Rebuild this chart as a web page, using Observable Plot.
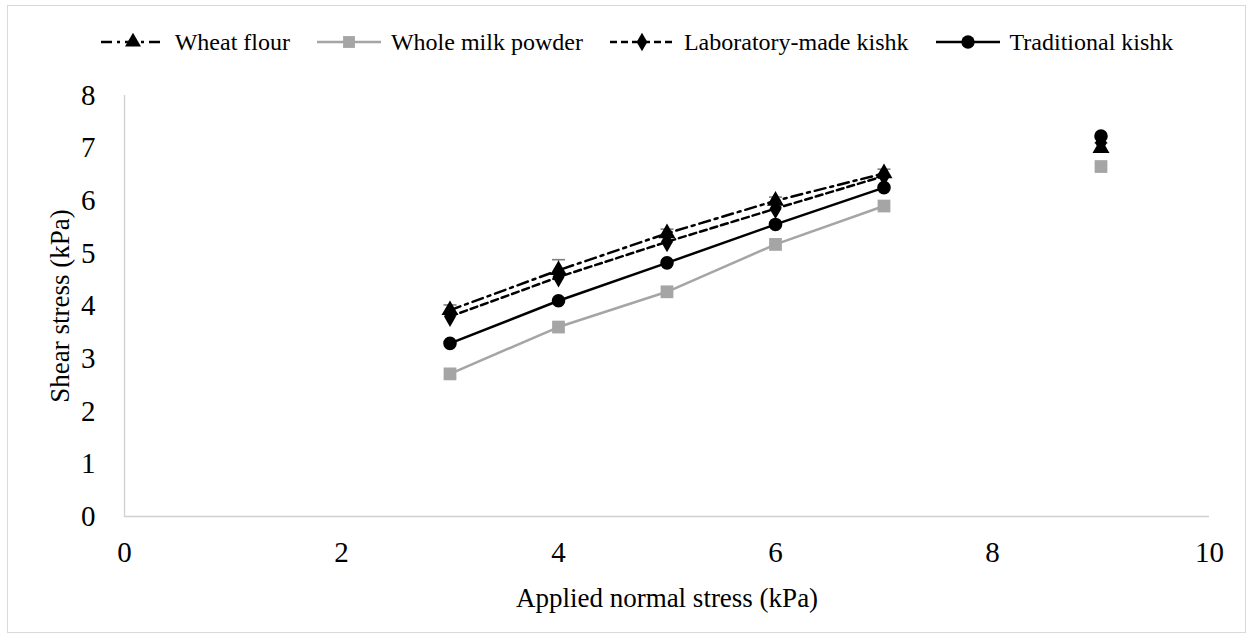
<!DOCTYPE html>
<html>
<head>
<meta charset="utf-8">
<script src="https://cdn.jsdelivr.net/npm/d3@7"></script>
<script src="https://cdn.jsdelivr.net/npm/@observablehq/plot@0.6"></script>
<style>
  html, body { margin: 0; padding: 0; background: #fff; }
  #wrap { position: relative; width: 1253px; height: 638px; overflow: hidden; font-family: "Liberation Serif", "Times New Roman", serif; }
  #frame { position: absolute; left: 7px; top: 5px; width: 1239px; height: 628px; border: 1px solid #d9d9d9; box-sizing: border-box; pointer-events: none; }
  #legend { box-sizing: border-box; height: 60px; padding-top: 24px; display: flex; justify-content: center; align-items: center; gap: 26px; font-size: 24px; line-height: 1; color: #000; padding-left: 20px; }
  .item { display: flex; align-items: center; gap: 9px; white-space: nowrap; }
  #chart svg { display: block; }
</style>
</head>
<body>
<div id="wrap">
  <div id="legend"></div>
  <div id="chart"></div>
  <div id="frame"></div>
</div>
<script>
// ---- data ----
const normalStress = [3, 4, 5, 6, 7, 9];
const wheatFlour   = [3.92, 4.68, 5.38, 6.00, 6.52, 7.00];
const wheatErr     = [0.10, 0.20, 0.08, 0.07, 0.08, 0.10];
const wholeMilk    = [2.71, 3.60, 4.27, 5.17, 5.90, 6.65];
const labKishk     = [3.80, 4.55, 5.22, 5.85, 6.47, 7.10];
const tradKishk    = [3.29, 4.10, 4.82, 5.55, 6.25, 7.23];
const seriesNames  = ["Wheat flour", "Whole milk powder", "Laboratory-made kishk", "Traditional kishk"];
const xTicks = [0, 2, 4, 6, 8, 10];
const yTicks = [0, 1, 2, 3, 4, 5, 6, 7, 8];
const lineEnd = 7; // lines join the points up to x = 7; the x = 9 points stand alone

const FONT = '"Liberation Serif", "Times New Roman", serif';
const styles = [
  {name: seriesNames[0], values: wheatFlour, color: "#000", dash: "11,5,3,5", symbol: "triangle", r: 6.3},
  {name: seriesNames[1], values: wholeMilk,  color: "#a5a5a5", dash: null, symbol: "square", r: 7.2},
  {name: seriesNames[2], values: labKishk,   color: "#000", dash: "7,4", symbol: "diamond", r: 6.3},
  {name: seriesNames[3], values: tradKishk,  color: "#000", dash: null, symbol: "circle", r: 6.8}
];

const rows = [];
styles.forEach(s => normalStress.forEach((x, i) => rows.push({series: s.name, x, y: s.values[i]})));
const errRows = normalStress.map((x, i) => ({x, y: wheatFlour[i], lo: wheatFlour[i] - wheatErr[i], hi: wheatFlour[i] + wheatErr[i]}));

const marks = [
  Plot.ruleY([0], {stroke: "#d0d0d0", strokeWidth: 1.3}),
  Plot.ruleX([0], {stroke: "#d0d0d0", strokeWidth: 1.3}),
  Plot.axisX({ticks: xTicks, tickSize: 0, tickPadding: 25, fontSize: 29, label: null, tickFormat: d => d}),
  Plot.axisY({ticks: yTicks, tickSize: 0, tickPadding: 29, fontSize: 29, label: null, tickFormat: d => d}),
  Plot.text(["Applied normal stress (kPa)"], {frameAnchor: "bottom", dy: 82, lineAnchor: "middle", textAnchor: "middle", fontSize: 27, fill: "#000"}),
  Plot.text(["Shear stress (kPa)"], {frameAnchor: "left", dx: -64, rotate: -90, textAnchor: "middle", lineAnchor: "middle", fontSize: 27, fill: "#000"}),
  Plot.ruleX(errRows, {x: "x", y1: "lo", y2: "hi", stroke: "#808080", strokeWidth: 1.3}),
  Plot.link(errRows, {x1: d => d.x - 0.06, x2: d => d.x + 0.06, y1: "hi", y2: "hi", stroke: "#808080", strokeWidth: 1.6})
];
styles.forEach(s => {
  const d = rows.filter(r => r.series === s.name);
  marks.push(Plot.line(d.filter(r => r.x <= lineEnd), {x: "x", y: "y", stroke: s.color, strokeWidth: 2.5, strokeDasharray: s.dash || undefined}));
});
styles.forEach(s => {
  const d = rows.filter(r => r.series === s.name);
  marks.push(Plot.dot(d, {x: "x", y: "y", symbol: () => s.symbol, r: s.r, fill: s.color, stroke: "none"}));
});

const chart = Plot.plot({
  width: 1253, height: 578,
  marginLeft: 124, marginRight: 44, marginTop: 35, marginBottom: 122,
  x: {domain: [0, 10]},
  y: {domain: [0, 8]},
  symbol: {type: "identity"},
  style: {fontFamily: FONT, color: "#000", background: "transparent"},
  marks
});
document.getElementById("chart").appendChild(chart);

// ---- legend ----
const legend = d3.select("#legend");
const symPath = {
  triangle: d3.symbol(d3.symbolTriangle, 110)(),
  square: d3.symbol(d3.symbolSquare, 140)(),
  diamond: d3.symbol(d3.symbolDiamond, 100)(),
  circle: d3.symbol(d3.symbolCircle, 140)()
};
styles.forEach(s => {
  const it = legend.append("div").attr("class", "item");
  const svg = it.append("svg").attr("width", 66).attr("height", 20);
  svg.append("line").attr("x1", 1).attr("x2", 65).attr("y1", 10).attr("y2", 10)
    .attr("stroke", s.color).attr("stroke-width", 2.5).attr("stroke-dasharray", s.dash);
  svg.append("path").attr("d", symPath[s.symbol]).attr("transform", "translate(33,10)").attr("fill", s.color);
  it.append("span").text(s.name);
});
</script>
</body>
</html>
